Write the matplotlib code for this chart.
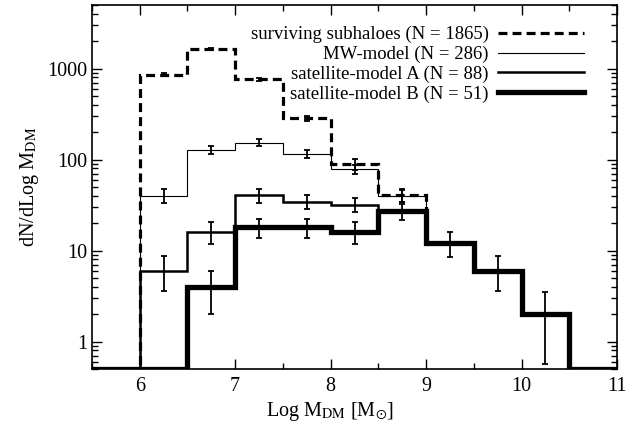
import numpy as np
import matplotlib
matplotlib.use("Agg")
import matplotlib.pyplot as plt
from matplotlib.ticker import FixedLocator, FixedFormatter, LogLocator, NullFormatter, MultipleLocator
from matplotlib.lines import Line2D

# ---- data ----
edges = [5.5, 6.0, 6.5, 7.0, 7.5, 8.0, 8.5, 9.0, 9.5, 10.0, 10.5, 11.0]
surv = [0.5, 860, 1660, 760, 285, 89, 41, 12, 6, 2, 0.5]
mw = [0.5, 40, 128, 154, 116, 78, 40, 12, 6, 2, 0.5]
satA = [0.5, 6, 16, 41, 34, 32, 27, 12, 6, 2, 0.5]
satB = [0.5, 0.5, 4, 18, 18, 16, 27, 12, 6, 2, 0.5]

surv_x = [6.25, 6.75, 7.25, 7.75, 8.25, 8.75]
surv_y = [860, 1660, 760, 285, 89, 41]
surv_lo = [40, 40, 35, 20, 12, 7]
surv_hi = [40, 40, 35, 20, 12, 7]

mw_x = [6.25, 6.75, 7.25, 7.75, 8.25, 8.75]
mw_y = [40, 128, 154, 116, 78, 40]
mw_lo = [6.3, 12, 13, 11, 9, 6]
mw_hi = [7, 12, 13, 11, 9, 6]

a_x = [6.25, 6.75, 7.25, 7.75, 8.25]
a_y = [6, 16, 41, 34, 32]
a_lo = [2.4, 4.1, 7.3, 5.6, 5.4]
a_hi = [2.7, 4.4, 6.6, 6.5, 6.2]

b_x = [6.75, 7.25, 7.75, 8.25, 8.75, 9.25, 9.75, 10.25]
b_y = [4, 18, 18, 16, 27, 12, 6, 2]
b_lo = [2.0, 4.2, 4.2, 4.1, 5.5, 3.4, 2.4, 1.43]
b_hi = [2.0, 4.4, 4.4, 4.4, 5.5, 4.0, 2.7, 1.5]

labels = ["surviving subhaloes (N = 1865)", "MW-model (N = 286)",
          "satellite-model A (N = 88)", "satellite-model B (N = 51)"]
yticks = [1, 10, 100, 1000]
ytick_labels = ["1", "10", "100", "1000"]
xticks = [6, 7, 8, 9, 10, 11]
xtick_labels = ["6", "7", "8", "9", "10", "11"]

# ---- style ----
plt.rcParams['font.family'] = ['Liberation Serif', 'DejaVu Serif']
plt.rcParams['mathtext.fontset'] = 'stix'

fig = plt.figure(figsize=(6.36, 4.28), dpi=100)
ax = fig.add_axes([92/636, 1-369/428, (617-92)/636, (369-5)/428])

ax.set_yscale('log')
ax.set_xlim(5.5, 11)
ax.set_ylim(0.5, 5000)

dash = (0, (2.8, 1.6))
ax.stairs(surv, edges, color='black', lw=2.3, linestyle=dash, zorder=2)
ax.stairs(mw, edges, color='black', lw=0.8, zorder=3)
ax.stairs(satA, edges, color='black', lw=1.8, zorder=4)
ax.stairs(satB, edges, color='black', lw=3.8, zorder=5)

ekw = dict(fmt='none', ecolor='black', elinewidth=1.3, capsize=2.5, capthick=1.3, zorder=6)
ax.errorbar(surv_x, surv_y, yerr=[surv_lo, surv_hi], **ekw)
ax.errorbar(mw_x, mw_y, yerr=[mw_lo, mw_hi], **ekw)
ax.errorbar(a_x, a_y, yerr=[a_lo, a_hi], **ekw)
ax.errorbar(b_x, b_y, yerr=[b_lo, b_hi], **ekw)

handles = [Line2D([], [], color='black', lw=2.3, linestyle=dash),
           Line2D([], [], color='black', lw=0.8),
           Line2D([], [], color='black', lw=1.8),
           Line2D([], [], color='black', lw=3.8)]
ax.legend(handles, labels, loc='upper right', frameon=False, markerfirst=False,
          fontsize=13.5, handlelength=4.6, handletextpad=0.5, labelspacing=0.13,
          borderaxespad=0.3, bbox_to_anchor=(0.963, 0.978))

ax.xaxis.set_major_locator(FixedLocator(xticks))
ax.xaxis.set_major_formatter(FixedFormatter(xtick_labels))
ax.xaxis.set_minor_locator(MultipleLocator(0.5))
ax.yaxis.set_major_locator(FixedLocator(yticks))
ax.yaxis.set_major_formatter(FixedFormatter(ytick_labels))
ax.yaxis.set_minor_locator(LogLocator(base=10, subs=np.arange(2, 10)))
ax.yaxis.set_minor_formatter(NullFormatter())

ax.tick_params(which='both', direction='in', top=True, right=True, labelsize=14.5, width=1.0)
ax.tick_params(which='major', length=7)
ax.tick_params(which='minor', length=4)
ax.tick_params(axis='x', pad=6)
for s in ax.spines.values():
    s.set_linewidth(1.2)

ax.set_xlabel(r'Log M$_{\rm DM}$ [M$_{\odot}$]', fontsize=14.5, labelpad=1)
ax.xaxis.set_label_coords(0.453, -0.085)
ax.set_ylabel(r'dN/dLog M$_{\rm DM}$', fontsize=14.5, labelpad=4)

fig.savefig('out.png', dpi=100)
